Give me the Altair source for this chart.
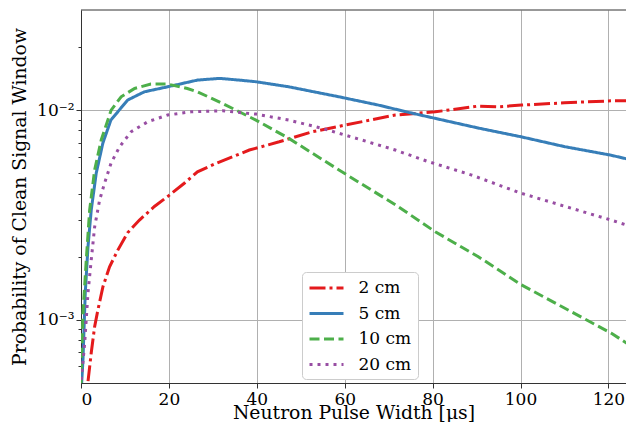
import altair as alt
import pandas as pd

series_names = ["2 cm", "5 cm", "10 cm", "20 cm"]

x_2cm = [1.6, 2.33, 3.1, 3.85, 4.98, 6.5, 8.38, 10.6, 13.3, 16.7, 19.7, 23.5, 26.5, 30.7, 38.3,
         45.1, 52.6, 60.2, 71.5, 80.6, 90.4, 94.9, 100.2, 110.0, 120.6, 125.3]
y_2cm = [5.1e-4, 6.97e-4, 9.27e-4, 1.116e-3, 1.436e-3, 1.79e-3, 2.15e-3, 2.60e-3, 2.99e-3, 3.47e-3,
         3.87e-3, 4.48e-3, 5.08e-3, 5.57e-3, 6.45e-3, 7.06e-3, 7.88e-3, 8.49e-3, 9.47e-3, 9.81e-3,
         1.045e-2, 1.037e-2, 1.056e-2, 1.083e-2, 1.107e-2, 1.11e-2]

x_5cm = [0.1, 0.45, 0.97, 1.59, 2.33, 3.47, 4.98, 6.8, 10.6, 14.4, 19.7, 26.5, 31.5, 36.0, 39.8,
         47.3, 51.9, 58.7, 67.7, 75.2, 90.4, 100.1, 110.1, 120.5, 125.3]
y_5cm = [4.8e-4, 6.45e-4, 1.345e-3, 2.23e-3, 3.34e-3, 5.01e-3, 6.97e-3, 8.96e-3, 1.116e-2, 1.222e-2,
         1.291e-2, 1.39e-2, 1.416e-2, 1.39e-2, 1.365e-2, 1.291e-2, 1.235e-2, 1.157e-2, 1.056e-2,
         9.68e-3, 8.21e-3, 7.46e-3, 6.69e-3, 6.10e-3, 5.78e-3]

x_10cm = [0.0, 0.07, 0.45, 1.2, 1.97, 3.1, 4.6, 6.86, 9.13, 12.2, 15.9, 19.7, 24.2, 26.5, 32.2,
          39.8, 47.3, 58.7, 71.6, 80.6, 90.4, 100.2, 120.6, 125.3]
y_10cm = [4.8e-4, 5.97e-4, 1.079e-3, 1.93e-3, 3.34e-3, 5.18e-3, 7.20e-3, 1.0e-2, 1.157e-2, 1.268e-2,
          1.33e-2, 1.33e-2, 1.268e-2, 1.222e-2, 1.076e-2, 8.96e-3, 7.33e-3, 5.18e-3, 3.53e-3,
          2.63e-3, 2.00e-3, 1.468e-3, 8.65e-4, 7.47e-4]

x_20cm = [0.07, 0.84, 1.59, 2.33, 3.1, 4.24, 5.37, 6.86, 8.77, 11.4, 15.2, 19.7, 25.0, 32.2, 39.8,
          47.3, 54.9, 63.9, 71.5, 79.0, 88.9, 100.2, 120.6, 125.3]
y_20cm = [5.18e-4, 7.76e-4, 1.345e-3, 1.93e-3, 2.77e-3, 3.73e-3, 4.49e-3, 5.60e-3, 6.68e-3, 7.88e-3,
          8.80e-3, 9.47e-3, 9.81e-3, 9.92e-3, 9.57e-3, 8.96e-3, 8.18e-3, 7.20e-3, 6.45e-3, 5.68e-3,
          4.90e-3, 4.01e-3, 2.99e-3, 2.78e-3]

x_ticks = [0, 20, 40, 60, 80, 100, 120]
y_ticks = [6e-4, 7e-4, 8e-4, 9e-4, 1e-3, 2e-3, 3e-3, 4e-3, 5e-3, 6e-3, 7e-3, 8e-3, 9e-3, 1e-2, 2e-2]

colors = ["#e41a1c", "#377eb8", "#4daf4a", "#984ea3"]
dashes = [[16, 4, 3, 4], [1, 0], [10, 4.5], [3, 5]]

frames = []
for name, xs, ys in [("2 cm", x_2cm, y_2cm), ("5 cm", x_5cm, y_5cm),
                     ("10 cm", x_10cm, y_10cm), ("20 cm", x_20cm, y_20cm)]:
    frames.append(pd.DataFrame({"x": xs, "y": ys, "series": name}))
df = pd.concat(frames, ignore_index=True)

major_test = "datum.value == 0.01 || datum.value == 0.001"

PLOT_W = 545
PLOT_H = 373

lines = alt.Chart(df).mark_line(strokeWidth=3, clip=True).encode(
    x=alt.X("x:Q", scale=alt.Scale(domain=[0, 124], nice=False, zero=False),
            axis=alt.Axis(title="Neutron Pulse Width [μs]", values=x_ticks, tickSize=5,
                          labelPadding=3, titleY=35.5, titleBaseline="alphabetic", grid=True)),
    y=alt.Y("y:Q", scale=alt.Scale(type="log", domain=[5e-4, 3e-2], nice=False),
            axis=alt.Axis(title="Probability of Clean Signal Window", values=y_ticks,
                          labelExpr="datum.value == 0.01 ? '10⁻²' : (datum.value == 0.001 ? '10⁻³' : '')",
                          gridOpacity={"condition": {"test": major_test, "value": 1}, "value": 0},
                          tickSize={"condition": {"test": major_test, "value": 5}, "value": 3},
                          labelPadding=2, titlePadding=7, grid=True)),
    color=alt.Color("series:N", scale=alt.Scale(domain=series_names, range=colors),
                    legend=alt.Legend(title=None, orient="none", legendX=221, legendY=262,
                                      fillColor="white", strokeColor="#cccccc", cornerRadius=4,
                                      padding=6, symbolType="M-2,0H2", symbolSize=289,
                                      symbolOffset=8.5, symbolStrokeWidth=3,
                                      labelFontSize=17, labelFont="DejaVu Serif",
                                      labelColor="black", labelOffset=22, rowPadding=7.5)),
    strokeDash=alt.StrokeDash("series:N", scale=alt.Scale(domain=series_names, range=dashes),
                              legend=None),
    order=alt.Order("series:N"),
)

top_spine = alt.Chart(pd.DataFrame({"k": [0]})).mark_rule(color="#333333", strokeWidth=1).encode(
    x=alt.value(0), x2=alt.value(PLOT_W), y=alt.value(0)
)

chart = alt.layer(lines, top_spine).properties(
    width=PLOT_W, height=PLOT_H,
    autosize=alt.AutoSizeParams(type="none"),
    padding={"left": 73, "top": 2, "right": 0, "bottom": 39},
).configure_axis(
    labelFont="DejaVu Serif", titleFont="DejaVu Serif", labelFontSize=17, titleFontSize=18.8,
    titleFontWeight="normal", labelColor="black", titleColor="black",
    domainColor="#333333", tickColor="#333333", gridColor="#b0b0b0", gridWidth=1,
).configure_view(stroke=None)

chart.save("out.html", embed_options={"renderer": "svg", "actions": False})
